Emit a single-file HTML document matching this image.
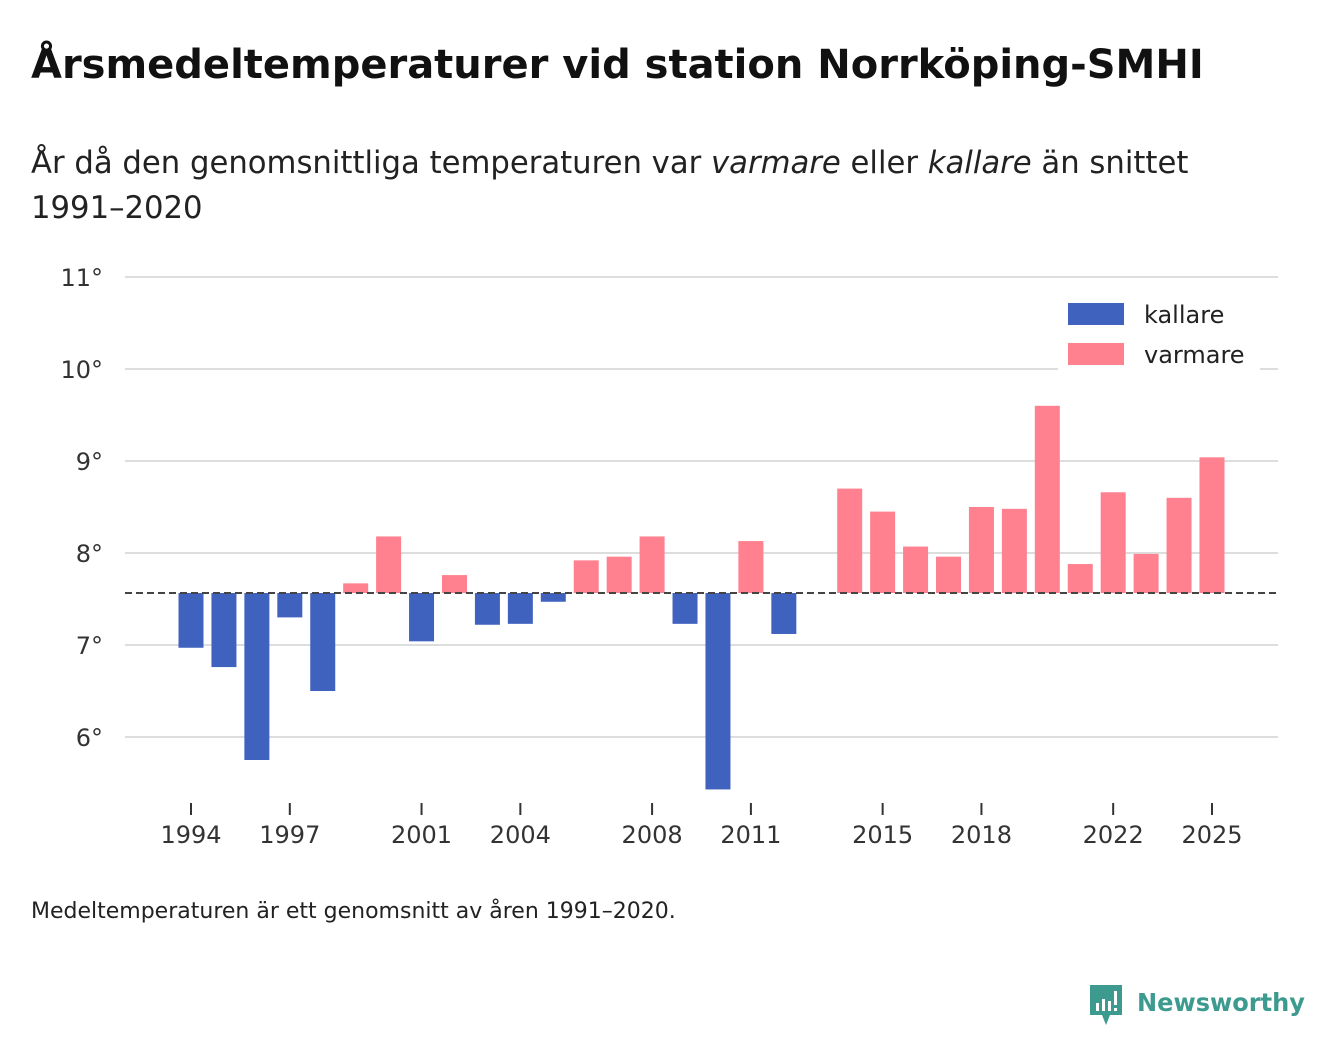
<!DOCTYPE html>
<html><head><meta charset="utf-8">
<style>
body{margin:0;background:#fff;font-family:"DejaVu Sans","Noto Sans CJK JP",sans-serif;color:#111;}
#wrap{position:relative;width:1340px;height:1056px;overflow:hidden;}
h1{position:absolute;left:31px;top:42px;margin:0;font-size:40px;font-weight:bold;white-space:nowrap;}
.sub{position:absolute;left:31px;top:141px;font-size:30.7px;line-height:45px;color:#222;width:1200px;}
.foot{position:absolute;left:31px;top:899px;font-size:22px;color:#222;}
.logo{position:absolute;left:1088px;top:983px;}
svg text{font-family:"DejaVu Sans","Noto Sans CJK JP",sans-serif;}
</style></head><body>
<div id="wrap">
<h1>Årsmedeltemperaturer vid station Norrköping-SMHI</h1>
<div class="sub">År då den genomsnittliga temperaturen var <i>varmare</i> eller <i>kallare</i> än snittet 1991–2020</div>
<svg id="chart" width="1340" height="1056" style="position:absolute;left:0;top:0"></svg>
<div class="foot">Medeltemperaturen är ett genomsnitt av åren 1991–2020.</div>
<div class="logo">
<svg width="240" height="45">
<path d="M2 2 h32 v30 h-12 l-4 10 l-4 -10 h-12 z" fill="#3d9a8f"/>
<rect x="8" y="20" width="3" height="8" fill="#fff"/><rect x="14" y="16" width="3" height="12" fill="#fff"/><rect x="20" y="18" width="3" height="10" fill="#fff"/><rect x="26" y="8" width="3" height="14" fill="#fff"/><rect x="26" y="25" width="3" height="3" fill="#fff"/>
<text x="49" y="28" font-size="25" font-weight="bold" fill="#3d9a8f" textLength="168" lengthAdjust="spacingAndGlyphs">Newsworthy</text>
</svg></div>
</div>
<script>
const years=[1994,1995,1996,1997,1998,1999,2000,2001,2002,2003,2004,2005,2006,2007,2008,2009,2010,2011,2012,2013,2014,2015,2016,2017,2018,2019,2020,2021,2022,2023,2024,2025];
const temps=[6.97,6.76,5.75,7.30,6.50,7.67,8.18,7.04,7.76,7.22,7.23,7.47,7.92,7.96,8.18,7.23,5.43,8.13,7.12,null,8.70,8.45,8.07,7.96,8.50,8.48,9.60,7.88,8.66,7.99,8.60,9.04];
const baseline=7.565;
const yTicks=[6,7,8,9,10,11];
const xTicks=[1994,1997,2001,2004,2008,2011,2015,2018,2022,2025];
const legendLabels=["kallare","varmare"];
const NS="http://www.w3.org/2000/svg";
const svg=document.getElementById('chart');
const y=v=>277+(11-v)*92;
const x=yr=>191+(yr-1994)*32.935;
function el(t,a,p){const e=document.createElementNS(NS,t);for(const k in a)e.setAttribute(k,a[k]);(p||svg).appendChild(e);return e;}
yTicks.forEach(t=>{
 const g=el('line',{x1:125,x2:1278,y1:y(t),y2:y(t),stroke:'#dddddd','stroke-width':2});
 
 
 const l=el('text',{x:103,y:y(t)+9,'text-anchor':'end','font-size':24,fill:'#333'});l.textContent=t+'°';
 
 
});
xTicks.forEach(t=>{
 const tk=el('line',{x1:x(t),x2:x(t),y1:803,y2:815,stroke:'#333','stroke-width':2});
 
 
 const l=el('text',{x:x(t),y:843,'text-anchor':'middle','font-size':24,fill:'#333'});l.textContent=t;
 
 
});
years.forEach((yr,i)=>{
 const v=temps[i]; if(v==null)return;
 const top=Math.min(y(v),y(baseline)),h=Math.abs(y(v)-y(baseline));
 const r=el('rect',{x:x(yr)-12.5,y:top,width:25,height:h,fill:v<baseline?'#4062bf':'#ff818f'});
 
 
});
const bl=el('line',{x1:125,x2:1278,y1:y(baseline),y2:y(baseline),stroke:'#444','stroke-width':2,'stroke-dasharray':'7,4'});


const lg=el('g',{});


el('rect',{x:1058,y:292,width:202,height:84,fill:'#fff'},lg);
legendLabels.forEach((lab,i)=>{
 const r=el('rect',{x:1068,y:303+i*40,width:56,height:22,fill:i?'#ff818f':'#4062bf'},lg);
 
 
 const t=el('text',{x:1144,y:323+i*40,'font-size':24,fill:'#222'},lg);t.textContent=lab;
 
 
});
</script>
</body></html>
